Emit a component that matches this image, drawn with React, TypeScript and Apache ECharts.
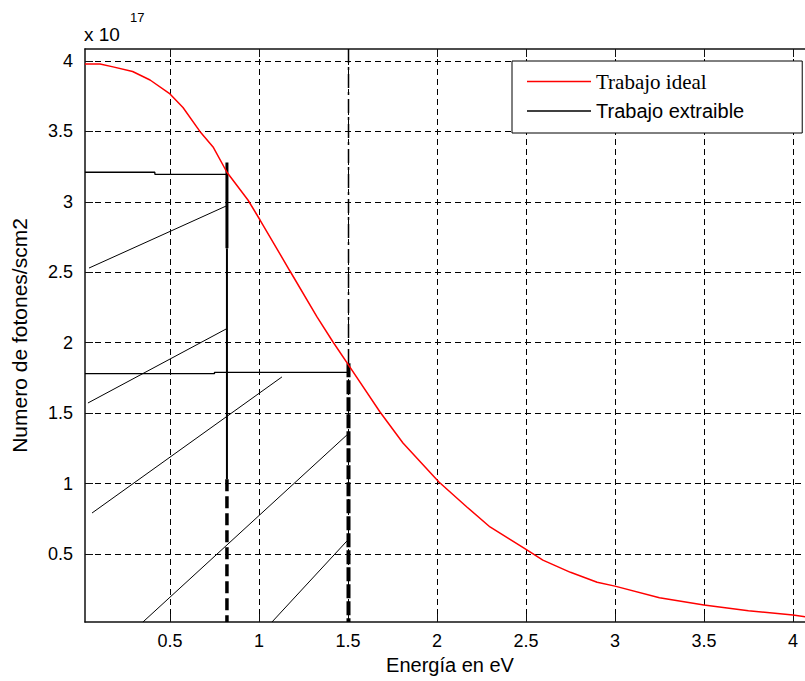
import React, { useEffect, useRef } from "react";
import * as echarts from "echarts";

// axis ticks / ranges
const xTicks = [0.5, 1, 1.5, 2, 2.5, 3, 3.5, 4];
const yTicks = [0.5, 1, 1.5, 2, 2.5, 3, 3.5, 4];
const xMin = 0.0225;
const xMax = 4.124;
const yMin = 0.0173;
const yMax = 4.085;

// "Trabajo ideal" (x 10^17)
const idealEnergy = [0.0225, 0.107, 0.18, 0.29, 0.388, 0.5, 0.573, 0.668, 0.742, 0.82, 0.938, 1.006, 1.174, 1.326, 1.416, 1.511, 1.68, 1.809, 2.011, 2.168, 2.298, 2.505, 2.595, 2.75, 2.9, 3.0, 3.25, 3.5, 3.75, 4.0, 4.07, 4.124];
const idealPhotons = [3.979, 3.979, 3.958, 3.925, 3.865, 3.766, 3.67, 3.5, 3.39, 3.21, 3.013, 2.871, 2.509, 2.183, 2.005, 1.827, 1.508, 1.288, 1.011, 0.834, 0.692, 0.529, 0.457, 0.37, 0.3, 0.272, 0.19, 0.138, 0.097, 0.067, 0.055, 0.05];

// "Trabajo extraible" pieces [energy, photons]
const level1 = [[0.0225, 3.21], [0.415, 3.21], [0.415, 3.195], [0.82, 3.195]];
const level2 = [[0.0225, 1.78], [0.75, 1.78], [0.75, 1.79], [1.503, 1.79]];
const ramp1 = [[0.045, 2.53], [0.815, 2.97]];
const ramp2 = [[0.039, 1.572], [0.815, 2.097]];
const ramp3 = [[0.062, 0.791], [1.129, 1.757]];
const ramp4 = [[0.348, 0.0173], [1.494, 1.345]];
const ramp5 = [[1.073, 0.0173], [1.494, 0.592]];
const gap1Upper = [[0.82, 3.28], [0.82, 2.67]];
const gap1Middle = [[0.82, 2.67], [0.82, 1.03]];
const gap1Lower = [[0.82, 1.03], [0.82, 0.0173]];
const gap2Lower = [[1.503, 1.855], [1.503, 0.0173]];
const gap2Upper = [[1.503, 4.085], [1.503, 1.855]];

const idealData = idealEnergy.map((x, i) => [x, idealPhotons[i]]);

export default function App() {
  const ref = useRef<HTMLDivElement>(null);
  useEffect(() => {
    if (!ref.current) return;
    const chart = echarts.init(ref.current, null, { renderer: "svg" });
    const sans = "'Liberation Sans', Arial, sans-serif";
    const black = (name: string, data: number[][], width: number, type: any = "solid", z = 3) => ({
      name,
      type: "line",
      data,
      symbol: "none",
      z,
      lineStyle: { color: "#000", width, type },
      itemStyle: { color: "#000" },
    });
    const X = "Trabajo extraible";
    const gridLine = { show: true, lineStyle: { color: "#000", type: [6, 4], width: 1 } };
    chart.setOption({
      animation: false,
      backgroundColor: "#fff",
      grid: { left: 85, top: 49, width: 730, height: 573, containLabel: false },
      legend: {
        orient: "vertical",
        left: 512,
        top: 61,
        padding: [10, 58, 12, 15],
        itemWidth: 64,
        itemHeight: 1.5,
        itemGap: 9,
        icon: "rect",
        backgroundColor: "#fff",
        borderColor: "#000",
        borderWidth: 1,
        borderRadius: 0,
        textStyle: { fontSize: 20, lineHeight: 20, color: "#000", fontFamily: sans },
        data: [
          { name: "Trabajo ideal", icon: "rect", textStyle: { fontFamily: "'Liberation Serif', 'Times New Roman', serif", fontSize: 21 } },
          { name: X, icon: "rect", textStyle: { fontFamily: sans, fontSize: 20 } },
        ],
      },
      xAxis: [
        {
          type: "value",
          min: xMin,
          max: xMax,
          name: "Energía en eV",
          nameLocation: "middle",
          nameGap: 33,
          nameTextStyle: { fontSize: 20, color: "#000", fontFamily: sans },
          axisLine: { show: true, lineStyle: { color: "#111", width: 1.5 } },
          axisTick: { show: true, inside: true, length: 8, customValues: xTicks, lineStyle: { color: "#111" } },
          axisLabel: { show: true, customValues: xTicks, margin: 10, fontSize: 18, color: "#000", fontFamily: sans },
          splitLine: gridLine,
        },
        {
          type: "value",
          position: "top",
          min: xMin,
          max: xMax,
          axisLine: { show: true, lineStyle: { color: "#111", width: 1.5 } },
          axisTick: { show: true, inside: true, length: 8, customValues: xTicks, lineStyle: { color: "#111" } },
          axisLabel: { show: false },
          splitLine: { show: false },
        },
      ],
      yAxis: [
        {
          type: "value",
          min: yMin,
          max: yMax,
          name: "Numero de fotones/scm2",
          nameLocation: "middle",
          nameGap: 55,
          nameTextStyle: { fontSize: 21, color: "#000", fontFamily: sans },
          axisLine: { show: true, lineStyle: { color: "#111", width: 1.5 } },
          axisTick: { show: true, inside: true, length: 8, customValues: yTicks, lineStyle: { color: "#111" } },
          axisLabel: { show: true, customValues: yTicks, margin: 12, fontSize: 18, color: "#000", fontFamily: sans },
          splitLine: gridLine,
        },
        {
          type: "value",
          position: "right",
          min: yMin,
          max: yMax,
          axisLine: { show: true, lineStyle: { color: "#111", width: 1.5 } },
          axisTick: { show: true, inside: true, length: 8, customValues: yTicks, lineStyle: { color: "#111" } },
          axisLabel: { show: false },
          splitLine: { show: false },
        },
      ],
      graphic: [
        { type: "text", left: 84, top: 25, style: { text: "x 10", fontSize: 19, fill: "#000", fontFamily: sans } },
        { type: "text", left: 130, top: 11, style: { text: "17", fontSize: 13, fill: "#000", fontFamily: sans } },
      ],
      series: [
        {
          name: "Trabajo ideal",
          type: "line",
          data: idealData,
          symbol: "none",
          z: 4,
          lineStyle: { color: "#ff0000", width: 1.5 },
          itemStyle: { color: "#ff0000" },
        },
        black(X, level1, 1.3),
        black(X, level2, 1.3),
        black(X, ramp1, 1),
        black(X, ramp2, 1),
        black(X, ramp3, 1),
        black(X, ramp4, 1),
        black(X, ramp5, 1),
        black(X, gap1Upper, 3),
        black(X, gap1Middle, 2),
        black(X, gap1Lower, 3.5, [12, 5]),
        black(X, gap2Lower, 4, [14, 3]),
        black(X, gap2Upper, 1.5, [14, 4, 3, 4], 2),
      ],
    });
    return () => chart.dispose();
  }, []);
  return (
    <div style={{ position: "fixed", left: 0, top: 0, width: 805, height: 681, overflow: "hidden", background: "#fff" }}>
      <div ref={ref} style={{ width: 830, height: 681 }} />
    </div>
  );
}
